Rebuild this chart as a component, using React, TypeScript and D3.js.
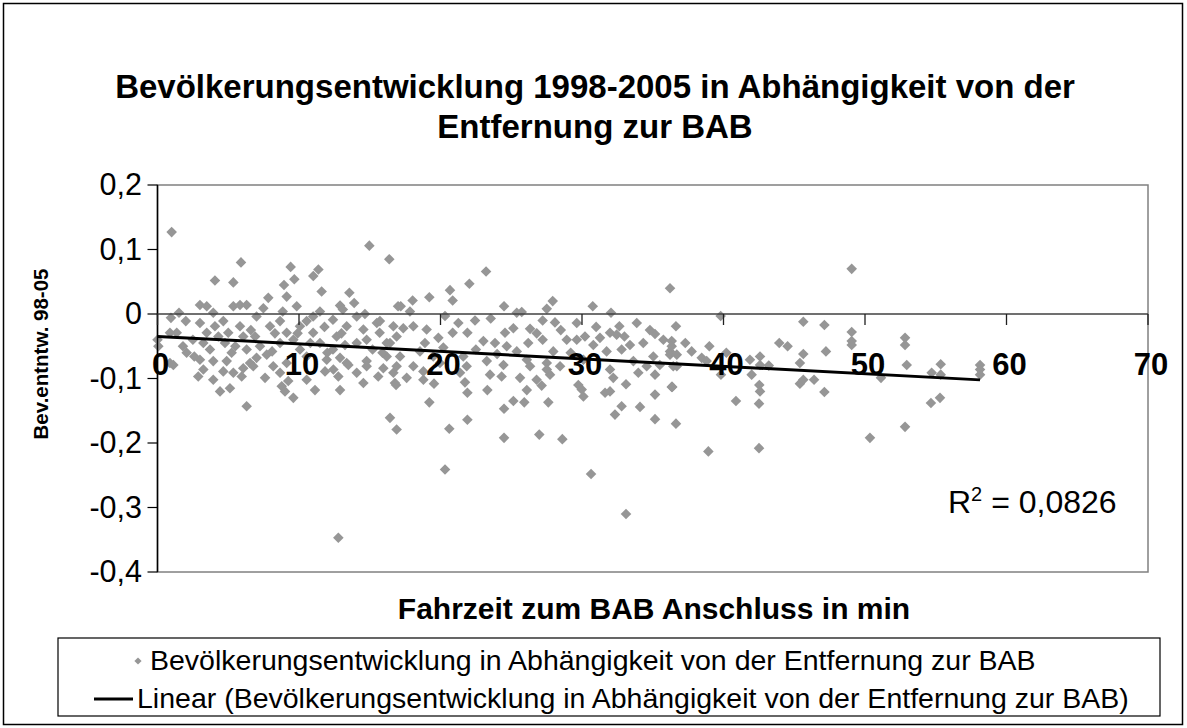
import React from 'react';
import * as d3 from 'd3';

// Fahrzeit zum BAB Anschluss (min)
const distances: number[] = [
  1.0, 4.06, 5.36, 5.9, 7.83, 9.41, 9.67, 8.94, 9.13, 11.01, 11.37, 11.6, 13.56, 14.97, 16.38, 17.0, 13.9, 12.9, 13.1, 3.0, 3.48, 5.36, 5.83, 6.3, 7.48, 9.84, 1.52, 0.95, 11.48, 14.66, 8.85, 11.0, 3.94, 7.0,
  2.0, 1.36, 0.88, 0.0, 0.06, 0.88, 2.06, 3.0, 3.48, 4.06, 3.24, 3.71, 3.0, 3.94, 4.65, 5.0, 4.77, 5.24, 5.83, 6.06, 6.3, 6.9, 7.24, 7.72, 7.95, 8.66, 9.13, 8.66, 9.6, 10.07, 10.54, 11.0, 11.48, 12.4, 12.66, 13.37, 13.25, 14.08, 14.55, 14.08, 14.78, 15.5, 15.7, 16.2, 16.67, 16.2, 14.78, 13.37, 11.96, 10.54, 9.13, 6.54, 4.89, 10.07, 12.4,
  2.5, 1.8, 4.3, 5.5, 6.6, 8.3, 8.1, 9.9, 10.8, 11.8, 12.0, 13.0, 15.2, 15.9, 16.9, 2.6, 7.0, 12.9,
  1.12, 2.88, 3.24, 3.94, 4.42, 5.12, 4.65, 5.36, 6.06, 5.95, 6.3, 6.77, 7.6, 8.18, 8.66, 8.78, 9.01, 9.24, 9.6, 10.54, 11.13, 11.84, 12.43, 12.78, 12.9, 13.49, 12.78, 14.08, 14.55, 14.78, 15.6, 15.96, 16.43, 16.9, 16.78, 16.67,
  17.19, 18.03, 17.84, 19.21, 20.67, 20.86, 20.32, 22.04, 23.22, 21.26, 22.44, 23.55, 24.49, 25.39, 25.74, 27.51, 27.93, 27.22, 28.09, 29.63, 30.76, 32.05, 32.64, 33.87, 36.22, 36.64,
  15.72, 17.37, 18.08, 19.02, 19.85, 20.86, 21.9, 23.03, 23.85, 24.56, 25.15, 24.68, 25.39, 26.33, 26.2, 27.22, 27.97, 28.92, 29.63, 30.21, 30.8, 31.27, 31.98, 32.45, 31.74, 32.8, 33.39, 34.33, 35.16, 35.75, 36.22, 16.43, 17.14, 18.55, 19.49, 21.61, 23.27, 26.1, 27.51, 30.1, 33.63, 35.04,
  18.9, 20.2, 22.5, 24.0, 26.8, 28.5, 29.2, 31.0, 33.0, 34.8,
  16.86, 17.61, 18.79, 19.54, 19.21, 20.62, 20.32, 21.9, 21.9, 21.73, 21.38, 23.31, 23.5, 24.32, 24.49, 24.49, 25.15, 25.92, 26.1, 25.62, 26.98, 27.62, 27.15, 26.79, 27.74, 28.61, 29.74, 30.1, 29.98, 30.64, 31.98, 31.63, 32.21, 32.33, 32.8, 33.11, 33.11, 33.98, 34.1, 35.16, 35.16, 35.16, 36.34, 36.64, 34.57, 36.45, 24.45, 26.33, 27.51, 28.45, 31.98, 16.9, 18.08, 18.79, 19.96, 21.85,
  49.06, 39.8, 45.64, 47.13, 49.06, 49.06, 49.06, 52.83, 52.83, 36.34, 36.34, 36.22, 36.7, 37.75, 38.46, 38.81, 41.87, 42.58, 42.58, 43.94, 44.53, 45.64, 45.4, 47.24, 52.95, 55.35,
  35.5, 36.7, 36.38, 38.93, 39.82, 40.88, 41.99, 42.53, 42.58, 42.51, 42.51, 45.4, 45.64, 46.4, 47.13, 50.35, 51.13, 52.83, 54.66, 55.3, 54.71, 55.35, 58.13, 58.13, 58.13,
  37.3, 39.0, 40.2, 43.2,
];

// Bev.entntw. 98-05
const changes: number[] = [
  0.127, 0.052, 0.049, 0.080, 0.025, 0.073, 0.054, 0.045, 0.027, 0.059, 0.069, 0.035, 0.033, 0.106, 0.085, 0.012, 0.017, 0.013, 0.007, 0.014, 0.012, 0.012, 0.014, 0.014, 0.009, 0.012, 0.002, -0.006, 0.004, 0.0, 0.004, -0.004, 0.002, -0.004,
  -0.011, -0.029, -0.029, -0.040, -0.050, -0.076, -0.060, -0.014, -0.029, -0.019, -0.045, -0.055, -0.071, -0.073, -0.011, -0.029, -0.045, -0.060, -0.019, -0.035, -0.055, -0.035, -0.050, -0.063, -0.019, -0.011, -0.029, -0.045, -0.040, -0.019, -0.011, -0.029, -0.045, -0.009, -0.035, -0.019, -0.048, -0.004, -0.024, -0.045, -0.040, -0.014, -0.029, -0.045, -0.019, -0.066, -0.073, -0.076, -0.071, -0.066, -0.076, -0.076, -0.073, -0.055, -0.055,
  -0.040, -0.050, -0.035, -0.050, -0.025, -0.030, -0.058, -0.030, -0.045, -0.020, -0.060, -0.030, -0.055, -0.060, -0.035, -0.066, -0.068, -0.068,
  -0.079, -0.097, -0.086, -0.102, -0.120, -0.115, -0.089, -0.091, -0.084, -0.097, -0.143, -0.081, -0.099, -0.081, -0.091, -0.112, -0.120, -0.104, -0.130, -0.102, -0.118, -0.089, -0.086, -0.097, -0.118, -0.079, -0.347, -0.091, -0.107, -0.081, -0.097, -0.084, -0.161, -0.179, -0.107, -0.091,
  0.012, 0.021, 0.004, 0.026, 0.037, 0.021, -0.003, 0.047, 0.066, -0.014, -0.010, -0.007, 0.012, 0.002, 0.003, 0.008, 0.020, -0.010, -0.013, -0.014, 0.012, 0.002, -0.019, -0.014, 0.040, -0.019,
  -0.011, -0.022, -0.019, -0.024, -0.037, -0.029, -0.029, -0.042, -0.045, -0.029, -0.022, -0.050, -0.058, -0.023, -0.045, -0.040, -0.058, -0.040, -0.040, -0.035, -0.048, -0.037, -0.029, -0.032, -0.058, -0.055, -0.048, -0.045, -0.031, -0.040, -0.058, -0.045, -0.066, -0.058, -0.066, -0.066, -0.073, -0.071, -0.076, -0.071, -0.073, -0.066,
  -0.045, -0.052, -0.055, -0.062, -0.030, -0.025, -0.060, -0.020, -0.035, -0.025,
  -0.110, -0.099, -0.102, -0.108, -0.137, -0.178, -0.241, -0.164, -0.122, -0.106, -0.091, -0.118, -0.094, -0.097, -0.147, -0.192, -0.135, -0.137, -0.118, -0.099, -0.187, -0.137, -0.111, -0.102, -0.094, -0.194, -0.110, -0.128, -0.117, -0.248, -0.120, -0.122, -0.099, -0.156, -0.143, -0.109, -0.310, -0.091, -0.144, -0.125, -0.094, -0.163, -0.113, -0.170, -0.081, -0.081, -0.079, -0.081, -0.086, -0.081, -0.086, -0.081, -0.081, -0.089, -0.076, -0.081,
  0.070, -0.003, -0.012, -0.017, -0.028, -0.042, -0.048, -0.037, -0.048, -0.042, -0.050, -0.063, -0.063, -0.058, -0.068, -0.073, -0.071, -0.066, -0.079, -0.045, -0.050, -0.062, -0.076, -0.058, -0.079, -0.078,
  -0.079, -0.081, -0.113, -0.213, -0.094, -0.135, -0.094, -0.110, -0.120, -0.139, -0.208, -0.108, -0.102, -0.102, -0.121, -0.192, -0.099, -0.175, -0.138, -0.130, -0.091, -0.094, -0.079, -0.086, -0.094,
  -0.045, -0.050, -0.060, -0.080,
];

const xTicks: number[] = [0, 10, 20, 30, 40, 50, 60, 70];
const yTicks: number[] = [0.2, 0.1, 0, -0.1, -0.2, -0.3, -0.4];

// Linear trend (as shown in the picture)
const TREND_INTERCEPT = -0.0347;
const TREND_SLOPE = -0.00116;
const R2_TEXT = '0,0826';

const TITLE_LINES: string[] = [
  'Bevölkerungsentwicklung 1998-2005 in Abhängigkeit von der',
  'Entfernung zur BAB',
];
const X_TITLE = 'Fahrzeit zum BAB Anschluss in min';
const Y_TITLE = 'Bev.entntw. 98-05';
const LEGEND_SERIES = 'Bevölkerungsentwicklung in Abhängigkeit von der Entfernung zur BAB';
const LEGEND_TREND = 'Linear (Bevölkerungsentwicklung in Abhängigkeit von der Entfernung zur BAB)';

const FONT = '"Liberation Sans", Arial, Helvetica, sans-serif';
const POINT_COLOR = '#969696';

const W = 1187;
const H = 728;
const PLOT = { left: 157.5, right: 1148, top: 185, bottom: 572 };

const fmtY = (v: number) => {
  const s = d3.format('.1f')(Math.abs(v));
  const t = v === 0 ? '0' : s.replace('.', ',');
  return (v < 0 ? '-' : '') + t;
};

export default function App() {
  const x = d3.scaleLinear().domain([0, 70]).range([PLOT.left, PLOT.right]);
  const y = d3.scaleLinear().domain([-0.4, 0.2]).range([PLOT.bottom, PLOT.top]);
  const diamond = d3.symbol(d3.symbolSquare, 56)()!;
  const legendDiamond = d3.symbol(d3.symbolSquare, 26)()!;

  const points = distances.map((d, i) => [d, changes[i]] as [number, number]);
  const [xmin, xmax] = d3.extent(distances) as [number, number];
  const trend = d3.line<number>()
    .x((d) => x(d))
    .y((d) => y(TREND_INTERCEPT + TREND_SLOPE * d))([xmin, xmax]) as string;

  const y0 = y(0);

  return (
    <svg width={W} height={H} style={{ position: 'absolute', left: 0, top: 0, background: '#fff' }} fontFamily={FONT}>
      <rect x={0} y={0} width={W} height={H} fill="#fff" />
      <rect x={3.5} y={3.5} width={1179} height={721} fill="#fff" stroke="#000" strokeWidth={1.5} />

      {TITLE_LINES.map((t, i) => (
        <text key={i} x={595} y={98 + i * 40} textAnchor="middle" fontSize={33} fontWeight="bold" fill="#000">{t}</text>
      ))}

      {/* plot area border */}
      <rect x={PLOT.left} y={PLOT.top} width={PLOT.right - PLOT.left} height={PLOT.bottom - PLOT.top} fill="none" stroke="#808080" strokeWidth={1.5} />

      {/* points */}
      <g>
        {points.map(([px, py], i) => (
          <path key={i} d={diamond} transform={`translate(${x(px)},${y(py)}) rotate(45)`} fill={POINT_COLOR} />
        ))}
      </g>

      {/* y axis */}
      <line x1={PLOT.left} x2={PLOT.left} y1={PLOT.top} y2={PLOT.bottom} stroke="#000" strokeWidth={1.5} />
      {yTicks.map((t) => (
        <g key={t}>
          <line x1={PLOT.left - 10} x2={PLOT.left} y1={y(t)} y2={y(t)} stroke="#000" strokeWidth={1.2} />
          <text x={142} y={y(t) + 10} textAnchor="end" fontSize={30.5} fill="#000">{fmtY(t)}</text>
        </g>
      ))}

      {/* x axis at y = 0 */}
      <line x1={PLOT.left} x2={PLOT.right} y1={y0} y2={y0} stroke="#404040" strokeWidth={1.5} />
      {xTicks.map((t) => (
        <line key={t} x1={x(t)} x2={x(t)} y1={y0} y2={y0 + 11} stroke="#202020" strokeWidth={1.3} />
      ))}

      {/* trend line */}
      <path d={trend} fill="none" stroke="#000" strokeWidth={3} />

      {xTicks.map((t) => (
        <text key={t} x={x(t) + 3} y={y0 + 61} textAnchor="middle" fontSize={31} fontWeight="bold" fill="#000">{t}</text>
      ))}

      {/* R² */}
      <text x={948} y={513} fontSize={32} fill="#000">
        R<tspan dy={-12} fontSize={20}>2</tspan><tspan dy={12}>{` = ${R2_TEXT}`}</tspan>
      </text>

      {/* axis titles */}
      <text x={654} y={619} textAnchor="middle" fontSize={30} fontWeight="bold" fill="#000">{X_TITLE}</text>
      <text transform={`translate(48,354) rotate(-90)`} textAnchor="middle" fontSize={20.5} fontWeight="bold" fill="#000">{Y_TITLE}</text>

      {/* legend */}
      <rect x={58} y={638} width={1102} height={78} fill="#fff" stroke="#000" strokeWidth={1.2} />
      <path d={legendDiamond} transform="translate(138,661) rotate(45)" fill={POINT_COLOR} />
      <text x={150} y={670} fontSize={28.5} fill="#000">{LEGEND_SERIES}</text>
      <line x1={94} x2={133} y1={699} y2={699} stroke="#000" strokeWidth={3} />
      <text x={137} y={708} fontSize={28.5} fill="#000">{LEGEND_TREND}</text>
    </svg>
  );
}
